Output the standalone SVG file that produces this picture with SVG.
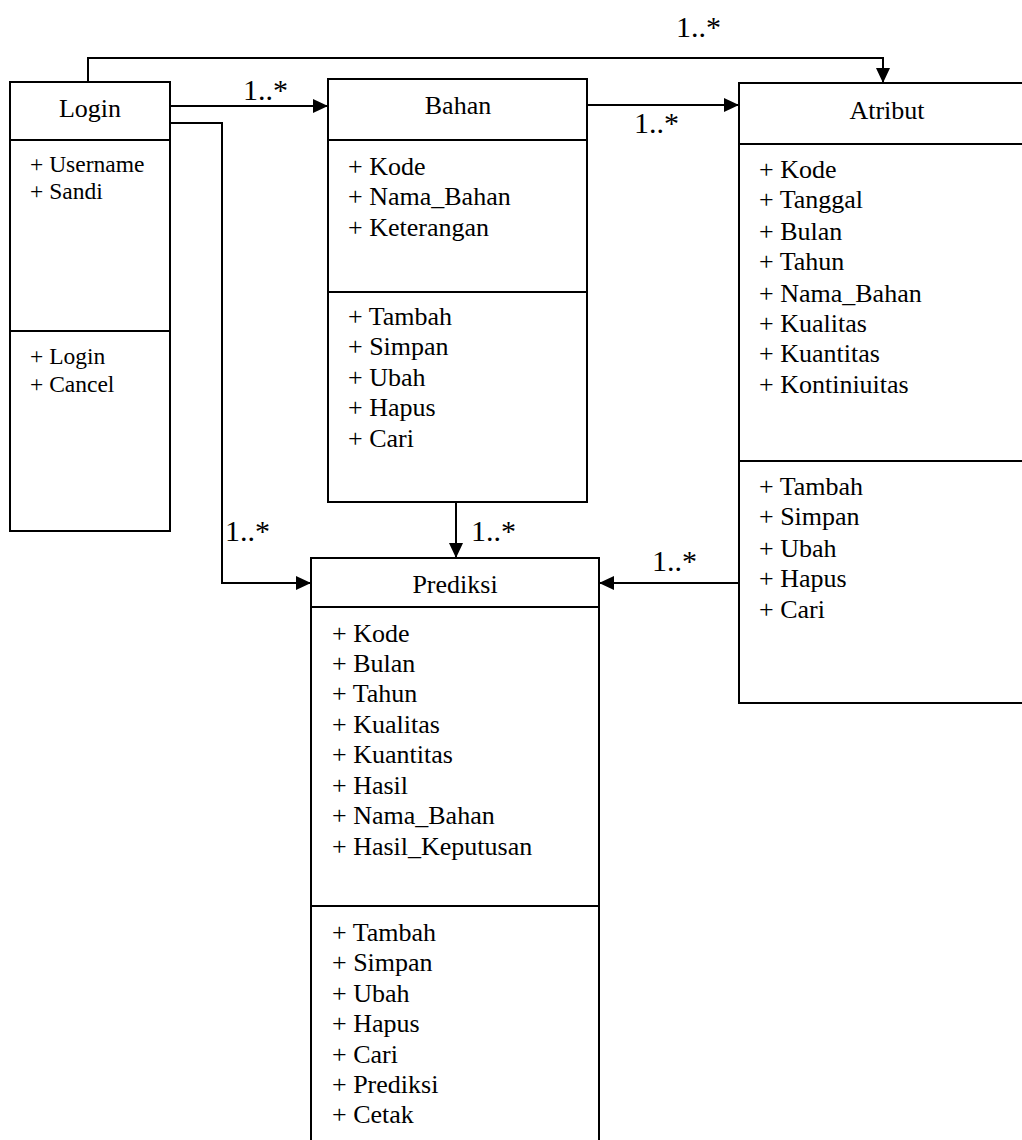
<svg xmlns="http://www.w3.org/2000/svg" width="1022" height="1140" viewBox="0 0 1022 1140" font-family="Liberation Serif, Times New Roman, DejaVu Serif, serif">
<style>
.box{fill:#fff;stroke:#000;stroke-width:2}
.div{stroke:#000;stroke-width:2}
.t{font-size:26px;fill:#000}
.title{text-anchor:middle}
.s{font-size:23.5px}
.lbl{font-size:30px;fill:#000}
.c{fill:none;stroke:#000;stroke-width:2}
</style>
<defs>
<marker id="arr" markerUnits="userSpaceOnUse" markerWidth="16" markerHeight="16" refX="15" refY="7" orient="auto">
<path d="M0,0 L15,7 L0,14 z" fill="#000"/>
</marker>
</defs>
<rect width="1022" height="1140" fill="#fff"/>
<g id="connectors">
<path class="c" d="M88,82 V58 H883 V83" marker-end="url(#arr)"/>
<path class="c" d="M170,106 H328" marker-end="url(#arr)"/>
<path class="c" d="M170,123 H222 V583 H311" marker-end="url(#arr)"/>
<path class="c" d="M587,105 H739" marker-end="url(#arr)"/>
<path class="c" d="M456,502 V558" marker-end="url(#arr)"/>
<path class="c" d="M739,583 H599" marker-end="url(#arr)"/>
<text class="lbl" x="676" y="37">1..*</text>
<text class="lbl" x="243" y="100">1..*</text>
<text class="lbl" x="634" y="133">1..*</text>
<text class="lbl" x="225" y="541">1..*</text>
<text class="lbl" x="471" y="541">1..*</text>
<text class="lbl" x="652" y="571">1..*</text>
</g>
<g id="login">
<rect class="box" x="10" y="82" width="160" height="449"/>
<line class="div" x1="10" y1="140" x2="170" y2="140"/>
<line class="div" x1="10" y1="331" x2="170" y2="331"/>
<text class="t title" x="90" y="117">Login</text>
<text class="t s" x="30" y="172">+ Username</text>
<text class="t s" x="30" y="199">+ Sandi</text>
<text class="t s" x="30" y="364">+ Login</text>
<text class="t s" x="30" y="392">+ Cancel</text>
</g>
<g id="bahan">
<rect class="box" x="328" y="79" width="259" height="423"/>
<line class="div" x1="328" y1="140" x2="587" y2="140"/>
<line class="div" x1="328" y1="292" x2="587" y2="292"/>
<text class="t title" x="458" y="114">Bahan</text>
<text class="t" x="348" y="175">+ Kode</text>
<text class="t" x="348" y="205">+ Nama_Bahan</text>
<text class="t" x="348" y="236">+ Keterangan</text>
<text class="t" x="348" y="325">+ Tambah</text>
<text class="t" x="348" y="355">+ Simpan</text>
<text class="t" x="348" y="386">+ Ubah</text>
<text class="t" x="348" y="416">+ Hapus</text>
<text class="t" x="348" y="447">+ Cari</text>
</g>
<g id="atribut">
<rect class="box" x="739" y="83" width="300" height="620"/>
<line class="div" x1="739" y1="144" x2="1030" y2="144"/>
<line class="div" x1="739" y1="461" x2="1030" y2="461"/>
<text class="t title" x="887" y="119">Atribut</text>
<text class="t" x="759" y="178">+ Kode</text>
<text class="t" x="759" y="208">+ Tanggal</text>
<text class="t" x="759" y="240">+ Bulan</text>
<text class="t" x="759" y="270">+ Tahun</text>
<text class="t" x="759" y="302">+ Nama_Bahan</text>
<text class="t" x="759" y="332">+ Kualitas</text>
<text class="t" x="759" y="362">+ Kuantitas</text>
<text class="t" x="759" y="393">+ Kontiniuitas</text>
<text class="t" x="759" y="495">+ Tambah</text>
<text class="t" x="759" y="525">+ Simpan</text>
<text class="t" x="759" y="557">+ Ubah</text>
<text class="t" x="759" y="587">+ Hapus</text>
<text class="t" x="759" y="618">+ Cari</text>
</g>
<g id="prediksi">
<rect class="box" x="311" y="558" width="288" height="600"/>
<line class="div" x1="311" y1="607" x2="599" y2="607"/>
<line class="div" x1="311" y1="906" x2="599" y2="906"/>
<text class="t title" x="455" y="593">Prediksi</text>
<text class="t" x="332" y="642">+ Kode</text>
<text class="t" x="332" y="672">+ Bulan</text>
<text class="t" x="332" y="702">+ Tahun</text>
<text class="t" x="332" y="733">+ Kualitas</text>
<text class="t" x="332" y="763">+ Kuantitas</text>
<text class="t" x="332" y="794">+ Hasil</text>
<text class="t" x="332" y="824">+ Nama_Bahan</text>
<text class="t" x="332" y="855">+ Hasil_Keputusan</text>
<text class="t" x="332" y="941">+ Tambah</text>
<text class="t" x="332" y="971">+ Simpan</text>
<text class="t" x="332" y="1002">+ Ubah</text>
<text class="t" x="332" y="1032">+ Hapus</text>
<text class="t" x="332" y="1063">+ Cari</text>
<text class="t" x="332" y="1093">+ Prediksi</text>
<text class="t" x="332" y="1123">+ Cetak</text>
</g>
</svg>
